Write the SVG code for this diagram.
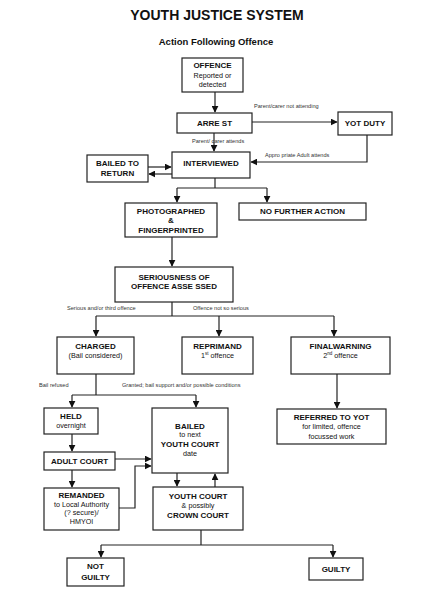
<svg xmlns="http://www.w3.org/2000/svg" width="442" height="600" viewBox="0 0 442 600">
<style>
text{font-family:"Liberation Sans",Arial,sans-serif;fill:#111;text-anchor:middle}
.t{font-size:14px;font-weight:bold}
.st{font-size:9.5px;font-weight:bold}
.h{font-size:8px;font-weight:bold}
.s{font-size:7.2px}
.l{font-size:5.6px;text-anchor:start;fill:#333}
.box rect{fill:#fff;stroke:#222;stroke-width:1.2}
#conn path{fill:none;stroke:#222;stroke-width:1.2}
</style>
<defs>
<marker id="a" viewBox="0 0 10 10" refX="9" refY="5" markerWidth="7" markerHeight="7" markerUnits="userSpaceOnUse" orient="auto">
<path d="M0,0 L10,5 L0,10 z" fill="#111"/>
</marker>
</defs>
<rect width="442" height="600" fill="#fff"/>
<text class="t" x="217" y="20">YOUTH JUSTICE SYSTEM</text>
<text class="st" x="216" y="45">Action Following Offence</text>

<g id="conn">
<path d="M215,92 V112" marker-end="url(#a)"/>
<path d="M252,122 H337" marker-end="url(#a)"/>
<path d="M214,133 V151" marker-end="url(#a)"/>
<path d="M367,135 V162 H251" marker-end="url(#a)"/>
<path d="M148,167 H171" marker-end="url(#a)"/>
<path d="M172,174 H149" marker-end="url(#a)"/>
<path d="M215,178 V188"/>
<path d="M177,188 H267"/>
<path d="M177,188 V202" marker-end="url(#a)"/>
<path d="M267,188 V202" marker-end="url(#a)"/>
<path d="M172,237 V266" marker-end="url(#a)"/>
<path d="M172,302 V316"/>
<path d="M96,316 H334"/>
<path d="M96,316 V336" marker-end="url(#a)"/>
<path d="M219,316 V336" marker-end="url(#a)"/>
<path d="M334,316 V336" marker-end="url(#a)"/>
<path d="M96,374 V395"/>
<path d="M72,395 H196"/>
<path d="M72,395 V407" marker-end="url(#a)"/>
<path d="M196,395 V407" marker-end="url(#a)"/>
<path d="M337,374 V408" marker-end="url(#a)"/>
<path d="M72,434 V451" marker-end="url(#a)"/>
<path d="M115,459 H151" marker-end="url(#a)"/>
<path d="M72,470 V487" marker-end="url(#a)"/>
<path d="M119,508 H135 V466 H151" marker-end="url(#a)"/>
<path d="M177,473 V486" marker-end="url(#a)"/>
<path d="M215,487 V474" marker-end="url(#a)"/>
<path d="M201,530 V545"/>
<path d="M101,545 H333"/>
<path d="M101,545 V557" marker-end="url(#a)"/>
<path d="M333,545 V557" marker-end="url(#a)"/>
<text class="l" x="254" y="108">Parent/carer not attending</text>
<text class="l" x="192" y="143">Parent/  carer attends</text>
<text class="l" x="265" y="157">Appro priate Adult attends</text>
<text class="l" x="67" y="310">Serious and/or third offence</text>
<text class="l" x="193" y="310">Offence not so serious</text>
<text class="l" x="39" y="387">Bail refused</text>
<text class="l" x="122" y="387">Granted; bail support and/or possible conditions</text>
</g>

<g id="offence" class="box"><rect x="182" y="58" width="61" height="34"/>
<text class="h" x="212.5" y="68">OFFENCE</text><text class="s" x="212.5" y="77.5">Reported or</text><text class="s" x="212.5" y="87">detected</text></g>
<g id="arrest" class="box"><rect x="177" y="113" width="75" height="20"/>
<text class="h" x="214.5" y="126">ARRE ST</text></g>
<g id="yotduty" class="box"><rect x="338" y="112" width="54" height="23"/>
<text class="h" x="365" y="126">YOT DUTY</text></g>
<g id="interviewed" class="box"><rect x="172" y="152" width="78" height="26"/>
<text class="h" x="211" y="166">INTERVIEWED</text></g>
<g id="bailedreturn" class="box"><rect x="87" y="155" width="61" height="27"/>
<text class="h" x="117.5" y="166">BAILED TO</text><text class="h" x="117.5" y="176">RETURN</text></g>
<g id="photographed" class="box"><rect x="125" y="203" width="92" height="34"/>
<text class="h" x="171" y="213.5">PHOTOGRAPHED</text><text class="h" x="171" y="223">&amp;</text><text class="h" x="171" y="233">FINGERPRINTED</text></g>
<g id="nfa" class="box"><rect x="239" y="203" width="127" height="17"/>
<text class="h" x="302.5" y="214">NO FURTHER ACTION</text></g>
<g id="seriousness" class="box"><rect x="115" y="267" width="118" height="35"/>
<text class="h" x="174" y="280">SERIOUSNESS OF</text><text class="h" x="174" y="289">OFFENCE ASSE SSED</text></g>
<g id="charged" class="box"><rect x="57" y="337" width="77" height="37"/>
<text class="h" x="95.5" y="349">CHARGED</text><text class="s" x="95.5" y="358">(Bail considered)</text></g>
<g id="reprimand" class="box"><rect x="182" y="337" width="71" height="37"/>
<text class="h" x="217.5" y="349">REPRIMAND</text><text class="s" x="217.5" y="358">1<tspan font-size="4.5" dy="-3">st</tspan><tspan dy="3"> offence</tspan></text></g>
<g id="finalwarning" class="box"><rect x="291" y="337" width="99" height="37"/>
<text class="h" x="340.5" y="349">FINALWARNING</text><text class="s" x="340.5" y="358">2<tspan font-size="4.5" dy="-3">nd</tspan><tspan dy="3"> offence</tspan></text></g>
<g id="held" class="box"><rect x="44" y="408" width="54" height="26"/>
<text class="h" x="71" y="419">HELD</text><text class="s" x="71" y="428">overnight</text></g>
<g id="adultcourt" class="box"><rect x="44" y="452" width="71" height="18"/>
<text class="h" x="79.5" y="464">ADULT COURT</text></g>
<g id="remanded" class="box"><rect x="44" y="488" width="75" height="42"/>
<text class="h" x="81.5" y="498">REMANDED</text><text class="s" x="81.5" y="506.5">to Local Authority</text><text class="s" x="81.5" y="515">(? secure)/</text><text class="s" x="81.5" y="524">HMYOI</text></g>
<g id="bailednext" class="box"><rect x="152" y="408" width="76" height="65"/>
<text class="h" x="190" y="429">BAILED</text><text class="s" x="190" y="437">to next</text><text class="h" x="190" y="447">YOUTH COURT</text><text class="s" x="190" y="456">date</text></g>
<g id="youthcourt" class="box"><rect x="153" y="487" width="90" height="43"/>
<text class="h" x="198" y="499">YOUTH COURT</text><text class="s" x="198" y="508">&amp; possibly</text><text class="h" x="198" y="518">CROWN COURT</text></g>
<g id="referred" class="box"><rect x="277" y="409" width="109" height="35"/>
<text class="h" x="331.5" y="420">REFERRED TO YOT</text><text class="s" x="331.5" y="428.5">for limited, offence</text><text class="s" x="331.5" y="438.5">focussed work</text></g>
<g id="notguilty" class="box"><rect x="67" y="558" width="57" height="28"/>
<text class="h" x="95.5" y="569">NOT</text><text class="h" x="95.5" y="580">GUILTY</text></g>
<g id="guilty" class="box"><rect x="309" y="558" width="54" height="22"/>
<text class="h" x="336" y="572">GUILTY</text></g>
</svg>
